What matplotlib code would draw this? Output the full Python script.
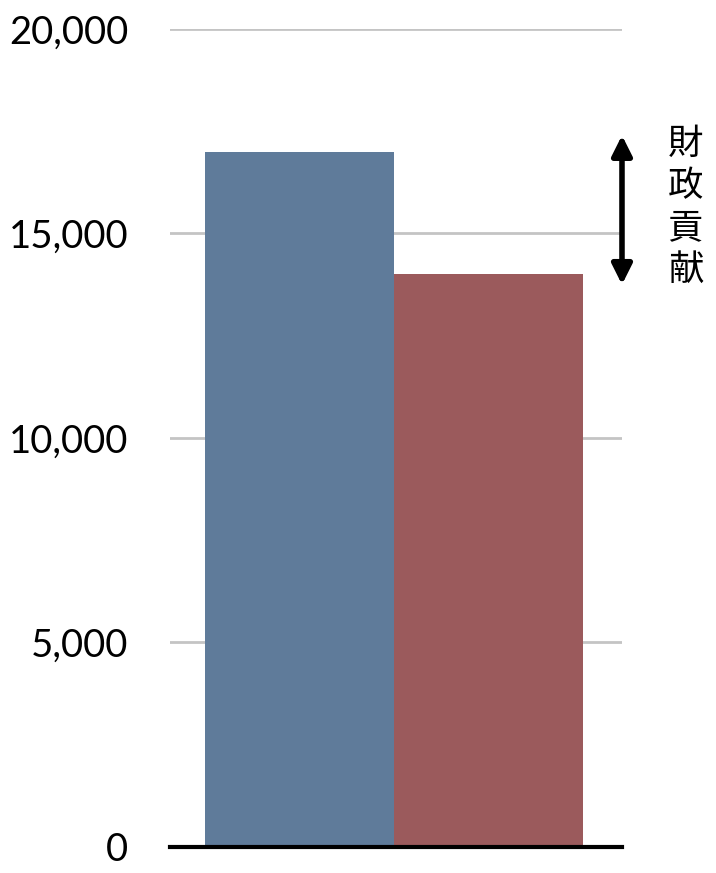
import matplotlib.pyplot as plt
from matplotlib.transforms import blended_transform_factory

categories = ["A", "B"]
values = [17000, 14000]
bar_colors = ["#5f7b9a", "#9b5a5c"]
yticks = [0, 5000, 10000, 15000, 20000]
ytick_labels = ["0", "5,000", "10,000", "15,000", "20,000"]
note = "財政貢献"

plt.rcParams['font.family'] = ['Lato', 'DejaVu Sans']

fig = plt.figure(figsize=(7.16, 8.73), dpi=100)
ax = fig.add_axes([0.2374, 0.0298, 0.6313, 0.937])

x = range(len(categories))
ax.bar(x, values, width=1.0, color=bar_colors, zorder=3)

ax.set_xlim(-0.685, 1.706)
ax.set_ylim(0, 20000)
ax.set_yticks(yticks)
ax.set_yticklabels(ytick_labels, fontsize=27.5)
ax.set_xticks([])
ax.tick_params(axis='y', length=0, pad=30)
ax.yaxis.grid(True, color="#c4c4c4", linewidth=2)
ax.set_axisbelow(True)
for s in ["left", "right", "top"]:
    ax.spines[s].set_visible(False)
ax.spines["bottom"].set_linewidth(3)
ax.spines["bottom"].set_zorder(4)

# double arrow showing the gap between the two bars
tr = blended_transform_factory(ax.transAxes, ax.transData)
ax.annotate("", xy=(1.0, values[0] + 400), xytext=(1.0, values[1] - 250),
            xycoords=tr, textcoords=tr,
            arrowprops=dict(arrowstyle="<|-|>", color="black", lw=4,
                            mutation_scale=30, shrinkA=0, shrinkB=0),
            annotation_clip=False)
ax.text(1.14, (values[0] + values[1]) / 2 + 150, "\n".join(note), transform=tr,
        ha="center", va="center", fontsize=25.5, linespacing=1.22,
        family=['Noto Sans CJK JP', 'DejaVu Sans'])

fig.savefig("out.png", dpi=100)
